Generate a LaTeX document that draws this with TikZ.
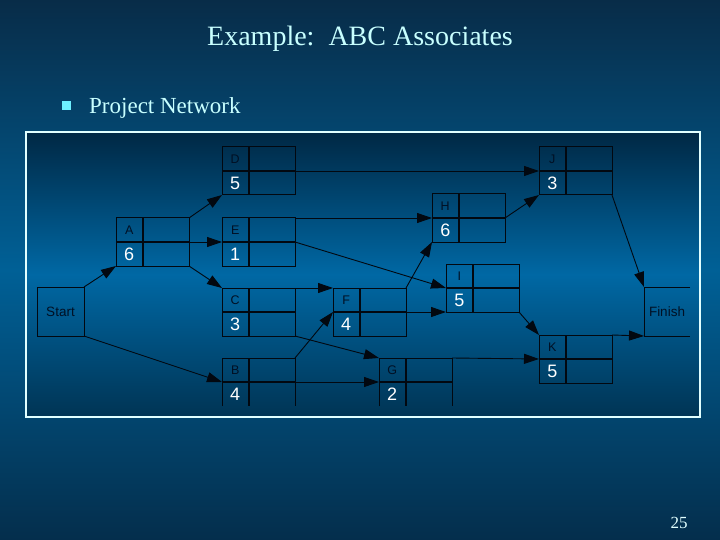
\documentclass[tikz,border=0pt]{standalone}
\usepackage{fontspec}
\setmainfont{Liberation Serif}
\newfontfamily\arialf{Liberation Sans}
\usetikzlibrary{arrows.meta}
\definecolor{bgtop}{RGB}{8,44,72}
\definecolor{bgmid}{RGB}{0,96,150}
\definecolor{bgbot}{RGB}{4,46,76}
\definecolor{intop}{RGB}{0,40,68}
\definecolor{inmid}{RGB}{0,104,164}
\definecolor{inbot}{RGB}{0,52,84}
\definecolor{framec}{RGB}{225,255,255}
\definecolor{titlec}{RGB}{200,255,255}
\definecolor{bulletc}{RGB}{110,240,255}
\definecolor{linec}{RGB}{2,8,16}
\definecolor{letterc}{RGB}{0,16,36}
\newcommand\actbox[5]{%
  \node[abox,draw=linec,line width=1pt] (#1) at ({#2+36.5},{#3+24}) {};
  \draw[innerline] (#1.west) -- (#1.east);
  \draw[innerline] ([xshift=26.5pt]#1.north west) -- ([xshift=26.5pt]#1.south west);
  \node[lettertxt] at ([xshift=13.25pt,yshift=-12pt]#1.north west) {\color{letterc}#4};
  \node[numtxt] at ([xshift=13.25pt,yshift=12pt]#1.south west) {#5};
}
\newcommand\actopen[5]{%
  \node[abox] (#1) at ({#2+36.5},{#3+24}) {};
  \draw[linec,line width=1pt] (#1.south west) -- (#1.north west) -- (#1.north east) -- (#1.south east);
  \draw[innerline] (#1.west) -- (#1.east);
  \draw[innerline] ([xshift=26.5pt]#1.north west) -- ([xshift=26.5pt]#1.south west);
  \node[lettertxt] at ([xshift=13.25pt,yshift=-12pt]#1.north west) {\color{letterc}#4};
  \node[numtxt] at ([xshift=13.25pt,yshift=12pt]#1.south west) {#5};
}
\begin{document}
\begin{tikzpicture}[x=1pt,y=-1pt,
  abox/.style={rectangle,inner sep=0pt,outer sep=0pt,minimum width=73pt,minimum height=48pt},
  innerline/.style={draw=linec,line width=2pt},
  lettertxt/.style={inner sep=0pt,text=letterc,font=\arialf\fontsize{12.5}{13}\selectfont},
  numtxt/.style={inner sep=0pt,text=white,font=\arialf\fontsize{18}{18}\selectfont},
  termtxt/.style={inner sep=0pt,outer sep=0pt,text=letterc,font=\arialf\fontsize{13.5}{14}\selectfont},
  conn/.style={draw=linec,line width=0.9pt,-{Triangle[length=15pt,width=10pt]}}]
\useasboundingbox (0,0) rectangle (720,540);
\shade[top color=bgtop,bottom color=bgbot,middle color=bgmid] (0,0) rectangle (720,540);
\shade[top color=intop,bottom color=inbot,middle color=inmid] (26,132) rectangle (700,417);
\draw[framec,line width=2pt] (26,132) rectangle (700,417);
% texts
\node[text=titlec,font=\fontsize{28}{30}\selectfont,anchor=base] (title) at (360,46) {Example:\ \ ABC Associates};
\node[fill=bulletc,inner sep=0pt,minimum size=9pt] (bullet) at (66.5,106) {};
\node[text=titlec,font=\fontsize{23}{26}\selectfont,anchor=base west,inner sep=0pt] (sub) at (89,114) {Project Network};
\node[text=framec,font=\fontsize{17}{18}\selectfont,anchor=base,inner sep=0pt] (page) at (679,528) {25};
% terminal nodes
\node[termtxt,draw=linec,line width=1pt,minimum width=47pt,minimum height=49pt] (start) at (60.5,311.5) {\color{letterc}Start};
\node[termtxt,minimum width=46pt,minimum height=49pt] (finish) at (667,311.5) {\color{letterc}Finish};
\draw[linec,line width=1pt] (finish.north east) -- (finish.north west) -- (finish.south west) -- (finish.south east);
% activities
\actbox{D}{222}{147}{D}{5}
\actbox{A}{116}{218}{A}{6}
\actbox{E}{222}{218}{E}{1}
\actbox{H}{432}{194}{H}{6}
\actbox{J}{539}{147}{J}{3}
\actbox{I}{446}{264}{I}{5}
\actbox{C}{222}{288}{C}{3}
\actbox{F}{333}{288}{F}{4}
\actbox{K}{539}{335}{K}{5}
\actopen{B}{222}{358}{B}{4}
\actopen{G}{379}{358}{G}{2}
% connectors
\draw[conn] (start.north east) -- (A.south west);
\draw[conn] (start.south east) -- (B.west);
\draw[conn] (A.north east) -- (D.south west);
\draw[conn] (A.east) -- (E.west);
\draw[conn] (A.south east) -- (C.north west);
\draw[conn] (D.east) -- (J.west);
\draw[conn] (E.north east) -- (H.west);
\draw[conn] (E.east) -- (I.west);
\draw[conn] (H.east) -- (J.south west);
\draw[conn] (C.north east) -- (F.north west);
\draw[conn] (C.south east) -- (G.north west);
\draw[conn] (F.north east) -- (H.south west);
\draw[conn] (F.east) -- (I.south west);
\draw[conn] (B.north east) -- (F.west);
\draw[conn] (B.east) -- (G.west);
\draw[conn] (G.north east) -- (K.west);
\draw[conn] (I.south east) -- (K.north west);
\draw[conn] (J.south east) -- (finish.north west);
\draw[conn] (K.north east) -- (finish.south west);
\end{tikzpicture}
\end{document}
